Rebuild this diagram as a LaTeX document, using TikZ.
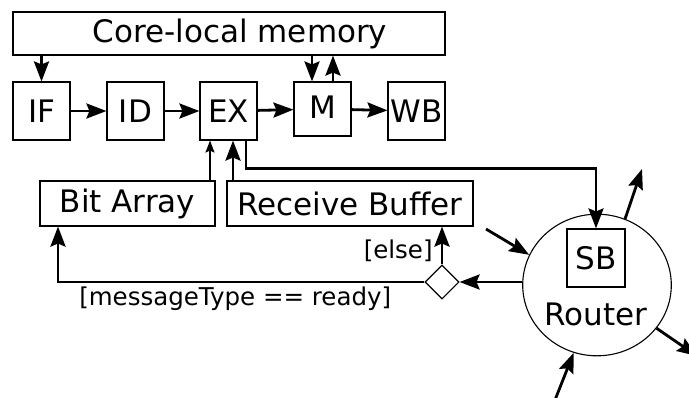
\documentclass[tikz,border=0pt]{standalone}
\usepackage{fontspec}
\setmainfont{DejaVu Sans}
\usetikzlibrary{arrows.meta,shapes.geometric,calc}

\tikzset{
  box/.style={draw, line width=1.1bp, inner sep=0pt, font=\fontsize{31bp}{37bp}\selectfont},
  stage/.style={box, minimum width=57bp, minimum height=58bp},
  flow/.style={line width=2.8bp, -{Stealth[length=20bp,width=15bp,inset=3bp]}},
  thinflow/.style={line width=1.3bp, -{Stealth[length=12bp,width=9bp,inset=2bp]}},
  guard/.style={inner sep=0pt, font=\fontsize{24.5bp}{29bp}\selectfont},
}

\begin{document}
\begin{tikzpicture}[x=1bp, y=-1bp]
  \useasboundingbox (0,0) rectangle (689,397);
  \clip (0,0) rectangle (689,397);
  \fill[white] (0,0) rectangle (689,397);

  % memory and the five pipeline stages
  \node[box, minimum width=432bp, minimum height=43bp] (mem) at (229,33.5)
    {\hspace{22bp}Core-local memory};
  \node[stage] (if) at (41.5,111) {IF};
  \node[stage] (id) at (135.5,111) {ID};
  \node[stage] (ex) at (228.5,111) {EX};
  \node[stage, minimum height=54bp] (m) at (322.5,109) {\raisebox{3bp}{M}};
  \node[stage] (wb) at (416.5,111) {WB};

  % receive side
  \node[box, minimum width=175bp, minimum height=45bp] (bits) at (127.5,203.5) {Bit Array};
  \node[box, minimum width=246bp, minimum height=45bp] (rbuf) at (350,203.5) {Receive Buffer};
  \node[draw, line width=1.1bp, diamond, minimum width=34bp, minimum height=34bp, inner sep=0pt]
    (dec) at (442,282) {};

  % router with its switch buffer
  \node[draw, line width=1.1bp, ellipse, minimum width=148.6bp, minimum height=141.6bp, inner sep=0pt]
    (router) at (597,285) {};
  \node[box, minimum width=58bp, minimum height=58bp] (sb) at (596,258) {SB};
  \node[inner sep=0pt, font=\fontsize{31bp}{37bp}\selectfont] (rlabel) at (596,314) {Router};

  % pipeline connections
  \draw[flow] (if) -- (id);
  \draw[flow] (id) -- (ex);
  \draw[flow] (ex) -- (m);
  \draw[flow] (m) -- (wb);
  \draw[flow] (mem.south -| if) -- (if.north);
  \draw[flow] ([xshift=-10.5bp]m.north |- mem.south) -- ([xshift=-10.5bp]m.north);
  \draw[flow] ([xshift=10.5bp]m.north) -- ([xshift=10.5bp]m.north |- mem.south);

  % into EX and out to the router
  \draw[thinflow] ([xshift=-18.5bp]ex.south |- bits.north) -- ([xshift=-18.5bp]ex.south);
  \draw[flow] ([xshift=4.5bp]ex.south |- rbuf.north) -- ([xshift=4.5bp]ex.south);
  \draw[flow] ([xshift=17.5bp]ex.south) -- ++(0,28) -| (sb.north);

  % decision on incoming messages
  \coordinate (turn) at (58,282);
  \draw[flow] (dec.east -| router.west) -- (dec.east);
  \draw[flow] (dec.north) -- (dec.north |- rbuf.south)
    node[guard, pos=0.4, anchor=east, xshift=-8bp, yshift=-2bp] (elselbl) {[else]};
  \draw[flow] (dec.west) -- (turn) node[guard, pos=0.5, anchor=north, xshift=-6bp, yshift=-3bp] (readylbl)
    {[messageType == ready]} -- (turn |- bits.south);

  % links to neighbouring routers
  \coordinate (inA) at (486,229);
  \coordinate (outA) at (642,169);
  \coordinate (outB) at (697,356);
  \coordinate (inB) at (555,400);
  \draw[flow] (inA) -- (router.156.5);
  \draw[flow] (router.67.3) -- (outA);
  \draw[flow] (router.-36) -- (outB);
  \draw[flow] (inB) -- (router.-109);
\end{tikzpicture}
\end{document}
